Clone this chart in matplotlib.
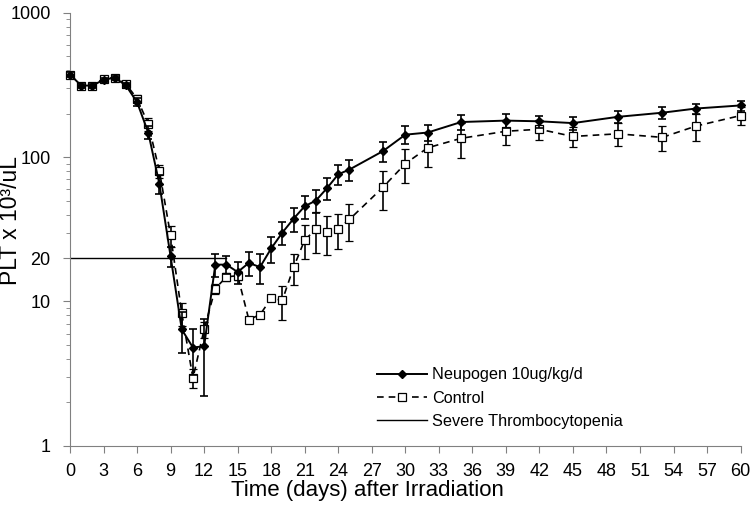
import matplotlib
matplotlib.use('Agg')
import matplotlib.pyplot as plt
from matplotlib.ticker import FixedLocator, LogLocator, NullFormatter

plt.rcParams['font.family'] = ['Liberation Sans', 'DejaVu Sans']

days = [0, 1, 2, 3, 4, 5, 6, 7, 8, 9, 10, 11, 12, 13, 14, 15, 16, 17, 18, 19, 20,
        21, 22, 23, 24, 25, 28, 30, 32, 35, 39, 42, 45, 49, 53, 56, 60]

neupogen = [373, 313, 313, 343, 355, 314, 240, 148, 65, 20.5, 6.4, 4.8, 4.9, 18, 18, 16,
            18.5, 17.3, 23.3, 30, 37.4, 45.7, 50, 61, 76, 82, 110, 143, 148, 175, 179,
            177, 172, 190, 203, 217, 228]
neupogen_err = [15, 10, 10, 12, 12, 12, 15, 15, 9.7, 3.2, 2.0, 1.7, 2.7, 3.3, 2.6, 2.8,
                3.4, 4, 4.7, 5.5, 7, 8.2, 9.1, 10.7, 12, 13.4, 17, 20, 18, 20, 20,
                17, 17, 18, 19, 18, 18]

control = [373, 313, 313, 350, 355, 321, 254, 170, 80, 28.7, 8.3, 2.95, 6.4, 12.3, 14.8,
           15.1, 7.5, 8.1, 10.5, 10.2, 17.2, 26.7, 31.6, 30.1, 31.8, 37, 61.8, 90, 116,
           135, 151, 156, 139, 145, 137, 164, 194]
control_err = [12, 8, 8, 12, 10, 10, 15, 18, 8, 4.7, 1.5, 0.45, 0.8, 1, 1, 1, 0.3, 0.4,
               0.5, 2.7, 4.2, 7, 10, 9.2, 8.8, 10.7, 18.8, 23.6, 31, 36, 30, 25, 22,
               26, 27, 35, 27]

thresh_x = [0, 14]
thresh_y = [20, 20]

xticks = list(range(0, 61, 3))
yticks = [1, 10, 20, 100, 1000]

fig = plt.figure(figsize=(7.56, 5.09), dpi=100)
ax = fig.add_axes([0.0926, 0.124, 0.887, 0.851])

neu = ax.errorbar(days, neupogen, yerr=neupogen_err, color='black', lw=1.4, marker='D',
                  ms=4.5, mfc='black', mec='black', ecolor='black', elinewidth=1.2,
                  capsize=3, capthick=1.2, clip_on=False, zorder=3)
ctl = ax.errorbar(days, control, yerr=control_err, color='black', lw=1.2, ls=(0, (4, 3)),
                  marker='s', ms=5.5, mfc='white', mec='black', mew=0.9, ecolor='black',
                  elinewidth=1.2, capsize=3, capthick=1.2, clip_on=False, zorder=2)
sev, = ax.plot(thresh_x, thresh_y, color='black', lw=1.0)

ax.set_yscale('log')
ax.set_xlim(0, 60)
ax.set_ylim(1, 1000)
ax.set_xticks(xticks)
ax.yaxis.set_major_locator(FixedLocator(yticks))
ax.set_yticklabels([str(v) for v in yticks])
ax.yaxis.set_minor_locator(LogLocator(base=10, subs=range(2, 10)))
ax.yaxis.set_minor_formatter(NullFormatter())

for side in ['top', 'right']:
    ax.spines[side].set_visible(False)
for side in ['left', 'bottom']:
    ax.spines[side].set_color('#808080')
ax.tick_params(axis='both', which='major', direction='out', length=5, color='#808080',
               labelsize=13)
ax.tick_params(axis='x', which='major', pad=7)
ax.tick_params(axis='y', which='major', pad=9)
ax.tick_params(axis='y', which='minor', direction='out', length=3, color='#808080')

ax.set_xlabel('Time (days) after Irradiation', fontsize=16)
ax.xaxis.set_label_coords(0.443, -0.078)
ax.set_ylabel('PLT x 10³/uL', fontsize=16.5)
ax.yaxis.set_label_coords(-0.072, 0.52)

ax.legend([neu[0], ctl[0], sev],
          ['Neupogen 10ug/kg/d', 'Control', 'Severe Thrombocytopenia'],
          loc='upper left', bbox_to_anchor=(0.445, 0.2), frameon=False, borderpad=0,
          fontsize=11.7, handlelength=3.1, handletextpad=0.3, labelspacing=0.5)

fig.savefig('out.png', dpi=100)
